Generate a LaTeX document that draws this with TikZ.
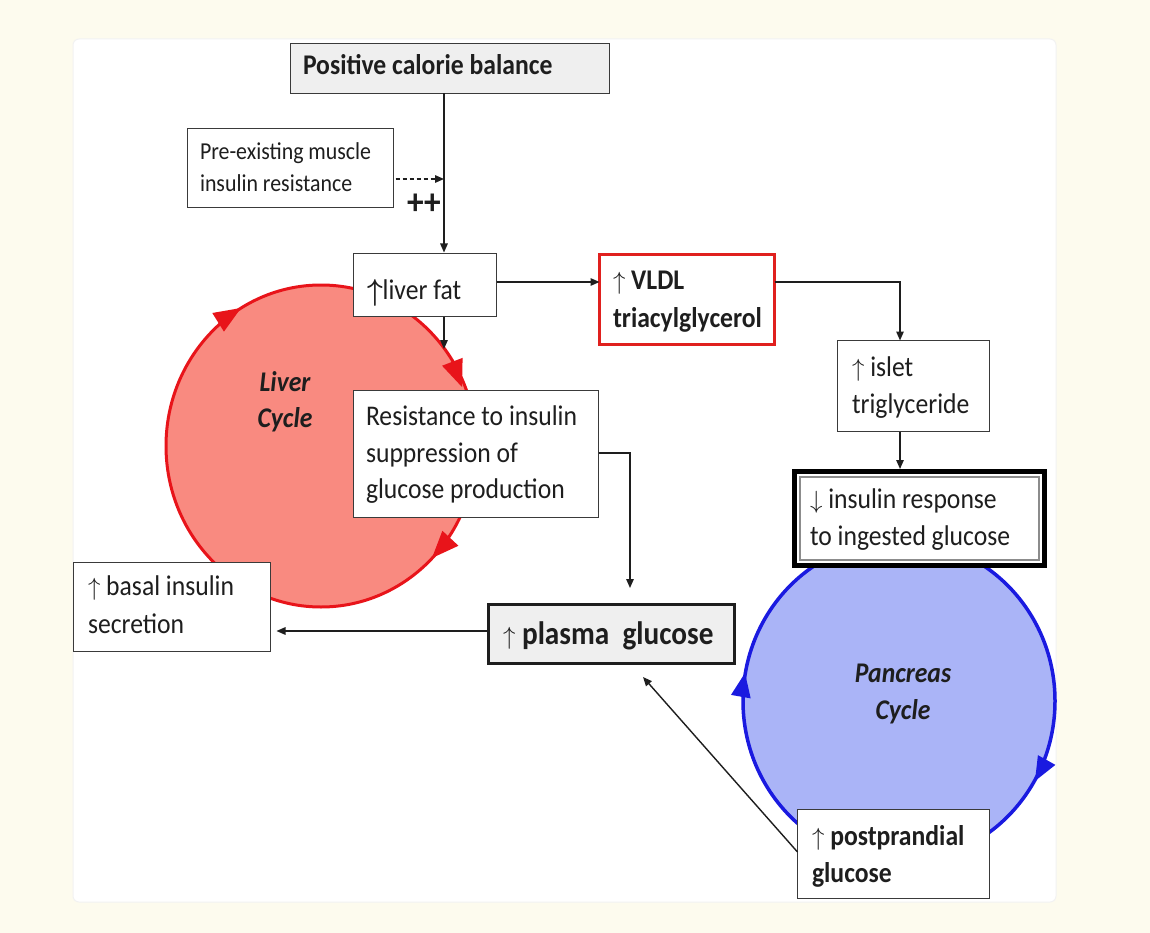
\documentclass[tikz,border=0pt]{standalone}
\usepackage{fontspec}
\setmainfont{Carlito}[FakeStretch=0.9]
\usetikzlibrary{arrows.meta}

\definecolor{bgcream}{HTML}{FDFBEE}
\definecolor{liverfill}{HTML}{F98A80}
\definecolor{liverline}{HTML}{E8141A}
\definecolor{pancfill}{HTML}{AAB4F7}
\definecolor{pancline}{HTML}{1A1AE0}
\definecolor{boxline}{HTML}{3A3A3A}
\definecolor{boxgray}{HTML}{EFEFEF}
\definecolor{ink}{HTML}{1E1E1E}
\definecolor{vldlred}{HTML}{E0201E}

\newcommand\setfs[2]{\fontsize{#1}{#2}\selectfont}
\newcommand\up{\ensuremath{\uparrow}}
\newcommand\down{\ensuremath{\downarrow}}

\begin{document}
\begin{tikzpicture}[x=1pt,y=-1pt,
  box/.style={draw=boxline, line width=1.5pt, fill=white, inner sep=0pt, outer sep=0pt},
  txt/.style={anchor=base west, inner sep=0pt, outer sep=0pt, text=ink, font=\setfs{28.5}{30}},
  btxt/.style={txt, font=\setfs{28.5}{30}\bfseries},
  cyc/.style={anchor=base, inner sep=0pt, text=ink, font=\setfs{28.5}{30}\bfseries\itshape},
  conn/.style={draw=ink, line width=1.4pt, -{Triangle[length=9pt,width=7.5pt]}},
  dconn/.style={conn, dash pattern=on 4pt off 3pt}
]
% page and panel
\fill[bgcream] (0,0) rectangle (1150,933);
\fill[white, draw=black!5, line width=1pt, rounded corners=6pt] (73,39) rectangle (1056,902);

% the two cycles
\draw[liverline, line width=3pt, fill=liverfill] (321,446) ellipse [x radius=155pt, y radius=161pt];
\draw[pancline, line width=3.5pt, fill=pancfill] (899,701) ellipse [x radius=156pt, y radius=161pt];

% clockwise heads on the cycles
\fill[liverline, shift={(241,308)}, rotate=32] (0,0) -- (-27,-11) -- (-27,11) -- cycle;
\fill[liverline, shift={(462,387)}, rotate=-69] (0,0) -- (-27,-11) -- (-27,11) -- cycle;
\fill[liverline, shift={(432,558)}, rotate=-133] (0,0) -- (-27,-11) -- (-27,11) -- cycle;
\fill[pancline, shift={(745,673)}, rotate=80] (0,0) -- (-24,-10) -- (-24,10) -- cycle;
\fill[pancline, shift={(1035,781)}, rotate=-119] (0,0) -- (-24,-10) -- (-24,10) -- cycle;

\node[cyc] (livera) at (285,391) {Liver};
\node[cyc] (liverb) at (285,427) {Cycle};
\node[cyc] (panca) at (903,682) {Pancreas};
\node[cyc] (pancb) at (903,719) {Cycle};

% boxes
\node[box, fill=boxgray, minimum width=319pt, minimum height=50pt] (cal) at (450,68.5) {};
\node[box, minimum width=206pt, minimum height=79pt] (pre) at (290.5,168) {};
\node[box, minimum width=143pt, minimum height=63pt] (fat) at (425,285) {};
\node[box, draw=vldlred, line width=3pt, minimum width=175pt, minimum height=90pt] (vldl) at (687,299.5) {};
\node[box, minimum width=152pt, minimum height=91pt] (islet) at (913.5,386) {};
\node[box, draw=black, line width=5pt, minimum width=250pt, minimum height=94pt] (ins) at (919.5,518.5) {};
\node[box, draw=black!45, line width=1.2pt, fill=none, minimum width=239pt, minimum height=83pt] (insin) at (ins.center) {};
\node[box, minimum width=245pt, minimum height=127pt] (res) at (476,454) {};
\node[box, draw=ink, line width=3pt, fill=boxgray, minimum width=246pt, minimum height=59pt] (plasma) at (611.5,634) {};
\node[box, minimum width=197pt, minimum height=89pt] (basal) at (172,607) {};
\node[box, minimum width=192pt, minimum height=89pt] (post) at (893.5,854) {};

% guide coordinates for the connector lines
\coordinate (vx) at (444,0);
\coordinate (dy) at (0,179);
\coordinate (hy) at (0,282);
\coordinate (ix) at (900,0);
\coordinate (ry) at (0,453);
\coordinate (py) at (0,631);
\coordinate (fatdown) at (444,349);
\coordinate (resdown) at (630,588);
\coordinate (postfrom) at (0,852);
\coordinate (postup) at (643,677);

% connectors
\draw[conn, shorten >=1pt] (cal.south -| vx) -- (fat.north -| vx);
\draw[dconn, shorten <=2pt] (pre.east |- dy) -- (vx |- dy);
\draw[conn] (fat.east |- hy) -- (vldl.west |- hy);
\draw[conn] (fat.south -| vx) -- (fatdown);
\draw[conn] (vldl.east |- hy) -| (islet.north -| ix);
\draw[conn, shorten >=2.5pt] (islet.south -| ix) -- (ins.north -| ix);
\draw[conn] (res.east |- ry) -| (resdown);
\draw[conn, shorten >=6pt] (plasma.west |- py) -- (basal.east |- py);
\draw[conn] (post.west |- postfrom) -- (postup);

\node[inner sep=0pt, text=ink, font=\setfs{37}{37}\bfseries] (plus) at (424,204) {++};

% texts
\node[btxt] (t1) at (303,75) {Positive calorie balance};
\node[txt, font=\setfs{24.3}{26}] (t2a) at (200,160) {Pre-existing muscle};
\node[txt, font=\setfs{24.3}{26}] (t2b) at (200,192) {insulin resistance};
\node[txt] (t3) at (367,299) {\raisebox{-1pt}{\scalebox{1.1}[1.22]{\boldmath$\uparrow$}}liver fat};
\node[btxt] (t4a) at (613,289) {\up\ VLDL};
\node[btxt] (t4b) at (613,327) {triacylglycerol};
\node[txt] (t5a) at (852,376) {\up\ islet};
\node[txt] (t5b) at (852,413) {triglyceride};
\node[txt] (t6a) at (810,508) {\down\ insulin response};
\node[txt] (t6b) at (810,545) {to ingested glucose};
\node[txt] (t7a) at (366,425) {Resistance to insulin};
\node[txt] (t7b) at (366,462) {suppression of};
\node[txt] (t7c) at (366,498) {glucose production};
\node[txt, font=\setfs{32.5}{34}\bfseries] (t8) at (503,644) {\up\ plasma\ \ glucose};
\node[txt] (t9a) at (88,595) {\up\ basal insulin};
\node[txt] (t9b) at (88,633) {secretion};
\node[btxt] (t10a) at (812,845) {\up\ postprandial};
\node[btxt] (t10b) at (812,882) {glucose};
\end{tikzpicture}
\end{document}
